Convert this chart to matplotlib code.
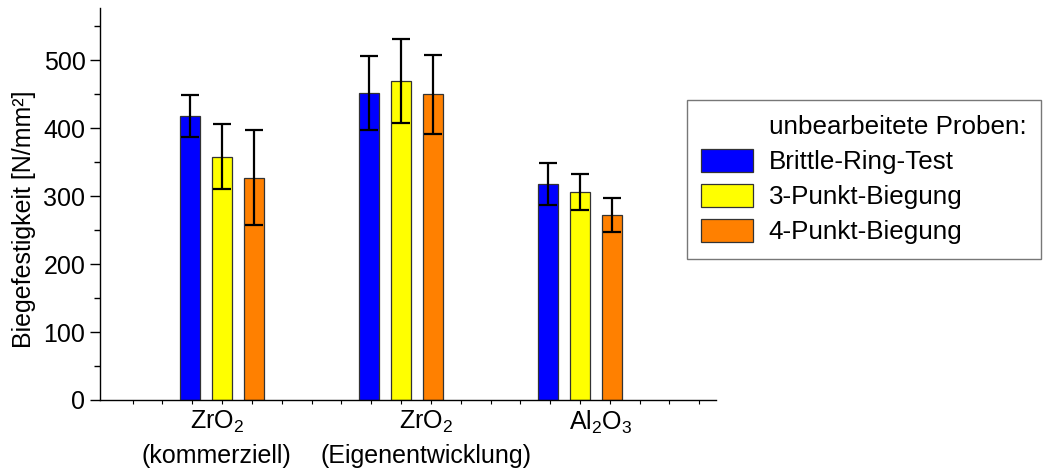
import matplotlib
matplotlib.use('Agg')
import matplotlib.pyplot as plt
import numpy as np
from matplotlib.patches import Patch

plt.rcParams['font.family'] = ['Liberation Sans', 'DejaVu Sans']
plt.rcParams['mathtext.fontset'] = 'custom'
plt.rcParams['mathtext.rm'] = 'Liberation Sans'
plt.rcParams['mathtext.it'] = 'Liberation Sans'

categories = ['ZrO$_2$\n(kommerziell)', 'ZrO$_2$\n(Eigenentwicklung)', 'Al$_2$O$_3$']
series = ['Brittle-Ring-Test', '3-Punkt-Biegung', '4-Punkt-Biegung']
brittle_ring = [418, 452, 318]
brittle_ring_err = [31, 55, 31]
punkt3 = [358, 470, 306]
punkt3_err = [48, 62, 26]
punkt4 = [327, 450, 272]
punkt4_err = [70, 58, 25]
colors = ['#0000ff', '#ffff00', '#ff8000']

values = [brittle_ring, punkt3, punkt4]
errors = [brittle_ring_err, punkt3_err, punkt4_err]

fig = plt.figure(figsize=(10.43, 4.70), dpi=100)
ax = fig.add_axes([0.0959, 0.149, 0.5906, 0.834])

x = np.arange(1, len(categories) + 1)
offset = 0.179
width = 0.112
for i in range(3):
    ax.bar(x + (i - 1) * offset, values[i], width, color=colors[i],
           edgecolor='#333333', linewidth=0.9, zorder=2)
    ax.errorbar(x + (i - 1) * offset, values[i], yerr=errors[i], fmt='none',
                ecolor='black', elinewidth=1.6, capsize=6.5, capthick=1.6, zorder=3)

ax.set_xlim(0.318, 3.76)
ax.set_ylim(0, 577)
# labels sit slightly off the group centres in the original
ax.set_xticks(x + np.array([-0.03, 0.14, 0.117]))
ax.set_xticklabels(categories, fontsize=18, linespacing=1.5)
ax.set_xticks(np.arange(0.5, 3.76, 1 / 6), minor=True)
ax.tick_params(axis='x', which='major', length=0, pad=6)
ax.tick_params(axis='x', which='minor', length=3, width=0.8, direction='out')

ax.set_yticks([0, 100, 200, 300, 400, 500])
ax.set_yticks(np.arange(50, 577, 100), minor=True)
ax.tick_params(axis='y', which='major', length=7, width=1.0, labelsize=18)
ax.tick_params(axis='y', which='minor', length=4, width=1.0)
ax.set_ylabel('Biegefestigkeit [N/mm²]', fontsize=18)
ax.yaxis.set_label_coords(-0.104, 0.462)

ax.spines['top'].set_visible(False)
ax.spines['right'].set_visible(False)
ax.spines['left'].set_linewidth(1.0)
ax.spines['bottom'].set_linewidth(1.0)

handles = [Patch(facecolor='none', edgecolor='none', label='unbearbeitete Proben:')]
for c, s in zip(colors, series):
    handles.append(Patch(facecolor=c, edgecolor='#333333', linewidth=0.9, label=s))

leg = fig.legend(handles=handles, loc='upper left', bbox_to_anchor=(687 / 1043, 1 - 100 / 470),
                 fontsize=18.7, frameon=True, fancybox=False, edgecolor='#555555',
                 handlelength=2.0, handleheight=0.95, handletextpad=0.6,
                 labelspacing=0.38, borderpad=0.55, borderaxespad=0)
leg.get_frame().set_linewidth(1.0)

fig.savefig('out.png', dpi=100)
